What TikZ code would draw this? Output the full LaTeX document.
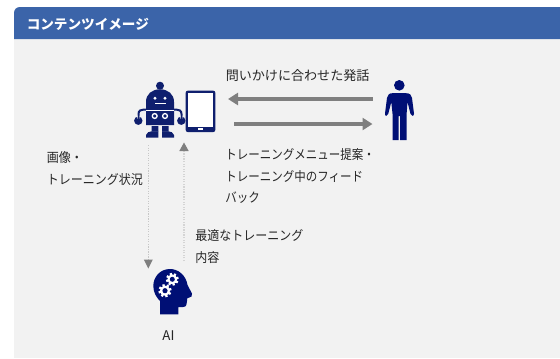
\documentclass[tikz,border=0pt]{standalone}
\usepackage{fontspec}
\setmainfont{Noto Sans CJK JP}
\newfontfamily\nr[FakeStretch=0.88]{Noto Sans CJK JP}
\newfontfamily\nq[FakeStretch=0.92]{Noto Sans CJK JP}
\usetikzlibrary{arrows.meta}
\definecolor{hdr}{HTML}{3B64A9}
\definecolor{panel}{HTML}{F2F2F2}
\definecolor{robotc}{HTML}{0F1F6E}
\definecolor{navy}{HTML}{000F75}
\definecolor{arrowc}{HTML}{7F7F7F}
\tikzset{
 lbl/.style={anchor=north west,inner sep=0pt,font=\fontsize{9.8pt}{16pt}\selectfont,text=black!85,align=left},
 solidarrow/.style={draw=arrowc,line width=2.4pt,-{Triangle[length=7.5pt,width=9pt]}},
 dotarrow/.style={draw=black!22,line width=.9pt,densely dotted},
 dottip/.style={fill=arrowc,draw=none},
}
\newcommand{\gearat}[3]{%
 \fill[white] (#1,#2) circle[radius=#3*0.74];
 \foreach \a in {0,45,...,315}{\fill[white,rotate around={\a+15:(#1,#2)}] (#1-#3*0.17,#2) rectangle (#1+#3*0.17,#2-#3*0.96);}
 \fill[navy] (#1,#2) circle[radius=#3*0.38];
}
\begin{document}
\begin{tikzpicture}[x=0.75pt,y=-0.75pt]
\useasboundingbox (0,0) rectangle (560,358);
\fill[white] (0,0) rectangle (560,358);
\fill[panel] (14,39) rectangle (560,358);
\fill[hdr] (14,39) -- (14,13) .. controls (14,9.5) and (16.5,7) .. (20,7) -- (560,7) -- (560,39) -- cycle;
\node[anchor=west,inner sep=0pt,text=white,font=\fontsize{10.2pt}{12pt}\selectfont\bfseries] (title) at (26.5,24.5) {コンテンツイメージ};
% robot
\begin{scope}[fill=robotc]
\fill (160,85.7) circle[radius=4];
\fill (146,125) -- (146,102) .. controls (146,94) and (152,89.3) .. (160,89.3) .. controls (168,89.3) and (174,94) .. (174,102) -- (174,125) -- cycle;
\fill[white] (155,98.3) circle[radius=1.6] (165,98.3) circle[radius=1.6];
\fill[white] (154.5,102.5) rectangle (165.5,104);
\draw[robotc,line width=1.5pt] (138.5,118) -- (138.5,114) .. controls (138.5,110.5) and (141,109.5) .. (144,109.5) -- (176,109.5) .. controls (179,109.5) and (181.5,110.5) .. (181.5,114) -- (181.5,118);
\draw[white,line width=.7pt] (146,110.3) -- (174,110.3);
\fill (138.3,120.7) circle[radius=4.2] (181.3,120.7) circle[radius=4.2];
\fill[panel] (137.3,115.5) rectangle (139.3,118.5) (180.3,115.5) rectangle (182.3,118.5);
\draw[robotc,line width=1.1pt] (138.5,114) -- (138.5,119);
\draw[robotc,line width=1.1pt] (181.5,114) -- (181.5,119);
\draw[white,line width=1pt] (154.7,116) circle[radius=2.4] (165,116) circle[radius=2.4];
\fill (151.7,126.2) rectangle (158.3,131.5) (162,126.2) rectangle (168.7,131.5);
\fill (146,137.7) -- (146,135) .. controls (147,132.5) and (149,131.3) .. (151.7,131.3) -- (158.3,131.3) -- (158.3,137.7) -- cycle;
\fill (174,137.7) -- (174,135) .. controls (173,132.5) and (171,131.3) .. (168.3,131.3) -- (162,131.3) -- (162,137.7) -- cycle;
\end{scope}
% tablet
\fill[robotc,rounded corners=1.5pt] (185.7,90.7) rectangle (215.3,132);
\fill[white] (188,93.3) rectangle (213.3,126.7);
\fill[white] (197.7,128.4) rectangle (203.3,129.8);
\coordinate (robotR) at (228,99);
\coordinate (robotS) at (234,124);
\coordinate (humanL) at (372.5,99);
\coordinate (humanS) at (372.5,124);
% person
\fill[navy] (399.3,85.3) circle[radius=5.3];
\fill[navy] (392.5,93.2) -- (406,93.2) .. controls (410,93.2) and (411.5,95) .. (412,98) -- (414,113.5) .. controls (414.2,116.5) and (411,116.5) .. (410.5,114) -- (407.5,102) -- (406.5,115.5) -- (406.5,140) -- (400.2,140) -- (400.2,116) -- (398.7,116) -- (398.7,140) -- (392.7,140) -- (392.7,115.5) -- (391.3,102) -- (388.2,114) .. controls (387.5,116.5) and (384.6,116.5) .. (385,113.5) -- (387,98) .. controls (387.5,95) and (389,93.2) .. (392.5,93.2) -- cycle;
% arrows
\draw[solidarrow] (humanL) -- (robotR);
\draw[solidarrow] (robotS) -- (humanS);
\coordinate (dnA) at (148.3,145);
\coordinate (dnB) at (148.3,260);
\coordinate (upA) at (184,261);
\coordinate (upB) at (184,150);
\draw[dotarrow] (dnA) -- (dnB);
\draw[dotarrow,line width=1.1pt,draw=black!17] (upA) -- (upB);
\fill[dottip] (143.8,259.5) -- (152.8,259.5) -- (148.3,268.5) -- cycle;
\fill[dottip] (179.3,151) -- (188.7,151) -- (184,142.5) -- cycle;
% AI head
\fill[navy] (160,314.3) -- (178.3,314.3) -- (178.3,307) -- (183,307) .. controls (186.5,307) and (187,304) .. (187,301) -- (187,298.5) -- (191.5,296.5) .. controls (192.5,295.5) and (192.5,294.5) .. (192,293.5) -- (187.5,285) .. controls (186,275) and (178,269) .. (170,269) .. controls (160,269) and (153.3,277) .. (153.3,286) .. controls (153.3,293) and (157,298) .. (160,301) -- cycle;
\gearat{172.3}{279.3}{6.6}
\gearat{165}{290.7}{6.8}
% text
\node[lbl] (t1) at (225.5,69) {問いかけに合わせた発話};
\node[lbl] (t2) at (225,148.5) {{\nr トレーニングメニュー提案・}\\{\nr トレーニング中のフィード}\\{\nr バック}};
\node[lbl,font=\fontsize{9.8pt}{17pt}\selectfont] (t3) at (46.5,151) {{\nq 画像・}\\{\nq トレーニング状況}};
\node[lbl] (t4) at (195,229.5) {{\nq 最適なトレーニング}\\{\nq 内容}};
\node[anchor=center,inner sep=0pt,font=\fontsize{10pt}{12pt}\selectfont,text=black!85] (ai) at (168.5,336) {AI};
\end{tikzpicture}
\end{document}
